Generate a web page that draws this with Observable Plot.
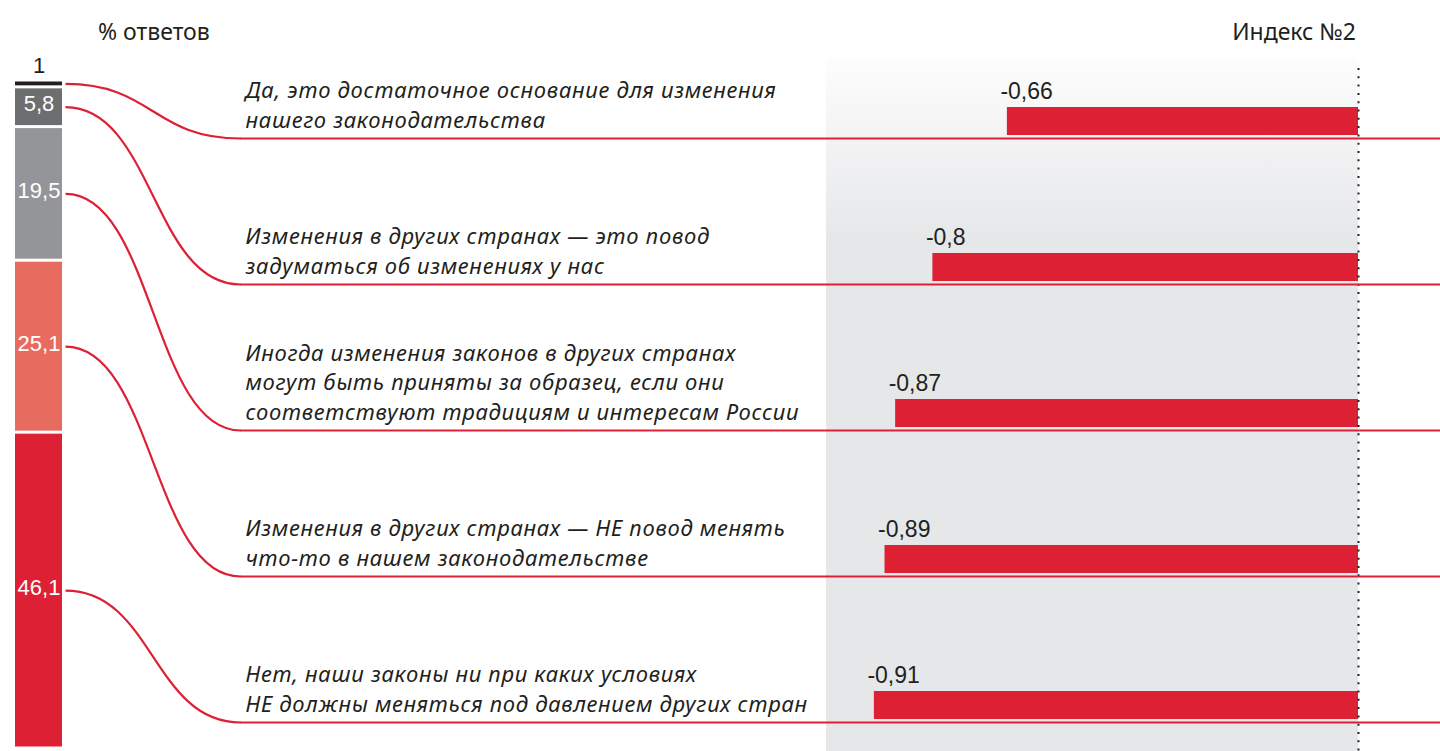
<!DOCTYPE html>
<html>
<head>
<meta charset="utf-8">
<script src="https://cdn.jsdelivr.net/npm/d3@7"></script>
<script src="https://cdn.jsdelivr.net/npm/@observablehq/plot@0.6"></script>
<style>
  html, body { margin: 0; padding: 0; background: #fff; overflow: hidden; }
  #wrap { position: relative; width: 1440px; height: 751px; }
  #wrap svg { position: absolute; left: 0; top: 0; }
  .hdr { position: absolute; font-family: "Noto Sans", sans-serif; font-size: 23px; color: #231f20; line-height: 26px; }
</style>
</head>
<body>
<div id="wrap">
  <div class="hdr" style="left:98px; top:18px;">% ответов</div>
  <div class="hdr" style="right:84px; top:18px;">Индекс №2</div>
</div>
<script>
// ---- data ----
const answers = [
  "Да, это достаточное основание для изменения\nнашего законодательства",
  "Изменения в других странах — это повод\nзадуматься об изменениях у нас",
  "Иногда изменения законов в других странах\nмогут быть приняты за образец, если они\nсоответствуют традициям и интересам России",
  "Изменения в других странах — НЕ повод менять\nчто-то в нашем законодательстве",
  "Нет, наши законы ни при каких условиях\nНЕ должны меняться под давлением других стран"
];
const shares = [1, 5.8, 19.5, 25.1, 46.1];
const shareLabels = ["1", "5,8", "19,5", "25,1", "46,1"];
const index2 = [-0.66, -0.8, -0.87, -0.89, -0.91];
const index2Labels = ["-0,66", "-0,8", "-0,87", "-0,89", "-0,91"];
const shareColors = ["#231f20", "#6d6e70", "#939598", "#e76c5f", "#dd2034"];

const rows = answers.map((a, i) => ({
  answer: a, share: shares[i], shareLabel: shareLabels[i],
  index: index2[i], indexLabel: index2Labels[i]
}));

// ---- layout ----
const W = 1440, H = 751;
const RED = "#dd2034", INK = "#231f20";
const textFont = "'Noto Sans', sans-serif";
const numFont = "'Liberation Sans', Arial, sans-serif";
const total = d3.sum(shares);

// Right panel: index bars
const right = Plot.plot({
  width: W, height: H, margin: 0,
  style: {background: "transparent", overflow: "visible"},
  x: {domain: [-1, 0], range: [826, 1358], axis: null},
  y: {type: "band", domain: answers, range: [106, 720], paddingInner: 0.809, paddingOuter: 0, axis: null},
  marks: [
    Plot.rect([0], {x1: -1, x2: 0, fill: "url(#bgGrad)", insetTop: 58}),
    Plot.barX(rows, {x: "index", y: "answer", fill: RED}),
    Plot.text(rows, {x: "index", y: "answer", text: "indexLabel", textAnchor: "start", dx: -7, dy: -30,
      fontSize: 23, fontFamily: numFont, fill: INK}),
    Plot.text(rows, {y: "answer", text: "answer", frameAnchor: "left", dx: 245, textAnchor: "start",
      lineAnchor: "bottom", dy: 6, lineHeight: 1.32, fontSize: 22, fontStyle: "italic",
      fontFamily: textFont, fill: INK}),
    Plot.ruleX([0], {stroke: INK, strokeWidth: 2, strokeDasharray: "2,6.3", insetTop: 68})
  ]
});
right.querySelectorAll('[font-style="italic"]').forEach(g => { g.style.letterSpacing = "0.7px"; });
const defs = document.createElementNS("http://www.w3.org/2000/svg", "defs");
defs.innerHTML = `<linearGradient id="bgGrad" gradientUnits="userSpaceOnUse" x1="0" y1="58" x2="0" y2="240">
  <stop offset="0" stop-color="#fdfdfd"/><stop offset="1" stop-color="#e6e7e9"/></linearGradient>`;
right.prepend(defs);

// Left panel: stacked share bar
const left = Plot.plot({
  width: W, height: H, margin: 0,
  style: {background: "transparent", overflow: "visible"},
  x: {type: "band", domain: ["share"], range: [15, 62], padding: 0, axis: null},
  y: {domain: [0, total], range: [80, 748], axis: null},
  color: {type: "ordinal", domain: answers, range: shareColors},
  marks: [
    Plot.barY(rows, {x: () => "share", y: "share", fill: "answer", insetTop: 1.5, insetBottom: 1.5}),
    Plot.text(rows, Plot.stackY({x: () => "share", y: "share",
      text: d => d.share >= 3 ? d.shareLabel : "", fill: "white", dy: -3, fontSize: 22, fontFamily: numFont})),
    Plot.text(rows, Plot.stackY1({x: () => "share", y: "share",
      text: d => d.share < 3 ? d.shareLabel : "", fill: INK, dy: -15, fontSize: 22, fontFamily: numFont}))
  ]
});

// Connectors: from each share segment to its answer row
const ly = left.scale("y"), lx = left.scale("x");
const ry = right.scale("y");
const ends = d3.cumsum(shares);
const startX = lx.apply("share") + lx.bandwidth + 3;
const bendX = 240;
const links = rows.map((r, i) => ({
  x1: startX, y1: ly.apply(ends[i] - r.share / 2),
  x2: bendX, y2: ry.apply(r.answer) + ry.bandwidth + 3
}));
const conn = Plot.plot({
  width: W, height: H, margin: 0,
  style: {background: "transparent", overflow: "visible"},
  x: {type: "identity", axis: null}, y: {type: "identity", axis: null},
  marks: [
    Plot.link(links, {x1: "x1", y1: "y1", x2: "x2", y2: "y2", curve: "bump-x", stroke: RED, strokeWidth: 2.2}),
    Plot.ruleY(links, {y: "y2", x1: "x2", x2: () => W, stroke: RED, strokeWidth: 2.2})
  ]
});

const wrap = document.getElementById("wrap");
wrap.prepend(conn);
wrap.prepend(left);
wrap.prepend(right);
</script>
</body>
</html>
